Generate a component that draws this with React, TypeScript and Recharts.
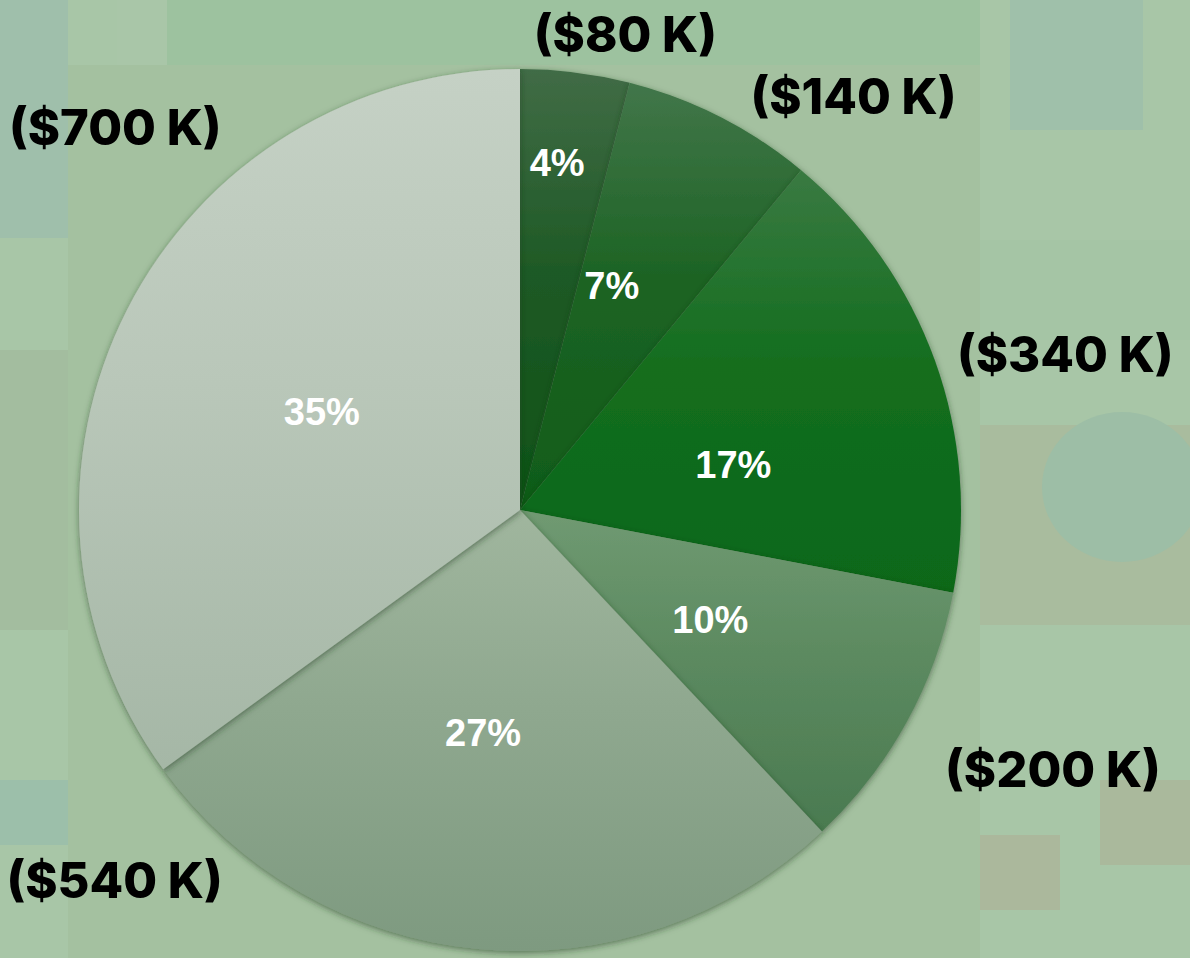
import React from 'react';
import { PieChart, Pie, Cell } from 'recharts';

// share of total, clockwise from 12 o'clock
const categories = ['A', 'B', 'C', 'D', 'E', 'F'];
const amountsK = [80, 140, 340, 200, 540, 700];
const percentLabels = ['4%', '7%', '17%', '10%', '27%', '35%'];

const data = categories.map((name, i) => ({
  name,
  value: amountsK[i],
  pct: percentLabels[i],
  amount: `($${amountsK[i]} K)`,
}));

// [top colour, mid colour, bottom colour] per slice
const sliceShades = [
  ['#416c46', '#1f5a26', '#0d5316'],
  ['#42764a', '#1d6424', '#0f5c18'],
  ['#3a7a42', '#146e1f', '#0a6819'],
  ['#709a72', '#5c8a60', '#4a7a50'],
  ['#a0b69e', '#8fa88f', '#7e9a80'],
  ['#c5d1c5', '#b9c7b9', '#a5b7a6'],
];

// label placement: degrees clockwise from top, distance from centre
const innerSpots = [
  [6.1, 349], [22.3, 242], [78.1, 218], [120.1, 220], [189.4, 226], [296.3, 221],
];
const outerSpots = [
  [12.5, 487], [38.9, 531], [74.1, 567], [116.0, 593], [227.6, 549], [313.4, 557],
];

const polar = (cx: number, cy: number, fromTop: number, r: number) => {
  const a = (fromTop * Math.PI) / 180;
  return { x: cx + r * Math.sin(a), y: cy - r * Math.cos(a) };
};

const renderLabels = (props: any) => {
  const { cx, cy, index } = props;
  const item = data[index];
  const inner = polar(cx, cy, innerSpots[index][0], innerSpots[index][1]);
  const outer = polar(cx, cy, outerSpots[index][0], outerSpots[index][1]);
  return (
    <g key={`lbl-${index}`}>
      <text
        x={inner.x}
        y={inner.y}
        textAnchor="middle"
        dominantBaseline="central"
        fill="#ffffff"
        style={{ fontFamily: '"Liberation Sans", Arial, sans-serif', fontSize: 38, fontWeight: 700 }}
      >
        {item.pct}
      </text>
      <text
        x={outer.x}
        y={outer.y}
        textAnchor="middle"
        dominantBaseline="central"
        fill="#000000"
        style={{ fontFamily: 'Inter, "Noto Sans", sans-serif', fontSize: 49, fontWeight: 800 }}
      >
        {item.amount}
      </text>
    </g>
  );
};

// faint backdrop blocks behind the chart
const Backdrop = () => (
  <>
    <div style={{ position: 'absolute', left: 0, top: 0, width: 68, height: 238, background: '#9fbfab' }} />
    <div style={{ position: 'absolute', left: 117, top: 0, width: 50, height: 65, background: '#a9c6a8' }} />
    <div style={{ position: 'absolute', left: 167, top: 0, width: 813, height: 65, background: '#9dc29f' }} />
    <div style={{ position: 'absolute', left: 68, top: 65, width: 912, height: 893, background: '#a4c1a0' }} />
    <div style={{ position: 'absolute', left: 1010, top: 0, width: 133, height: 130, background: '#9fc0aa' }} />
    <div style={{ position: 'absolute', left: 0, top: 350, width: 68, height: 280, background: '#a3bd9f' }} />
    <div style={{ position: 'absolute', left: 0, top: 780, width: 68, height: 65, background: '#9cbfaa' }} />
    <div style={{ position: 'absolute', left: 980, top: 240, width: 210, height: 100, background: '#a5c5a5' }} />
    <div style={{ position: 'absolute', left: 980, top: 425, width: 210, height: 200, background: '#a9bc9e' }} />
    <div style={{ position: 'absolute', left: 1042, top: 412, width: 160, height: 150, borderRadius: '50%', background: '#9dbea6' }} />
    <div style={{ position: 'absolute', left: 980, top: 835, width: 80, height: 75, background: '#abb89c' }} />
    <div style={{ position: 'absolute', left: 1100, top: 780, width: 90, height: 85, background: '#aab99c' }} />
  </>
);

export default function App() {
  return (
    <div
      style={{
        position: 'fixed',
        left: 0,
        top: 0,
        width: 1190,
        height: 958,
        overflow: 'hidden',
        background: '#a8c6a7',
      }}
    >
      <Backdrop />
      <div style={{ position: 'absolute', left: 0, top: 0 }}>
        <PieChart width={1190} height={958} margin={{ top: 0, right: 0, bottom: 0, left: 0 }}>
          <defs>
            {sliceShades.map((s, i) => (
              <linearGradient key={`g-${i}`} id={`slice-${i}`} x1="0" y1="0" x2="0" y2="1">
                <stop offset="0%" stopColor={s[0]} />
                <stop offset="45%" stopColor={s[1]} />
                <stop offset="100%" stopColor={s[2]} />
              </linearGradient>
            ))}
            <filter id="pieShadow" x="-10%" y="-10%" width="120%" height="120%">
              <feDropShadow dx="0" dy="2" stdDeviation="3" floodColor="#1f3a22" floodOpacity="0.55" />
            </filter>
          </defs>
          <Pie
            data={data}
            dataKey="value"
            nameKey="name"
            cx={520}
            cy={510}
            innerRadius={0}
            outerRadius={441}
            startAngle={90}
            endAngle={-270}
            stroke="none"
            label={renderLabels}
            labelLine={false}
            isAnimationActive={false}
            style={{ filter: 'url(#pieShadow)' }}
          >
            {data.map((d, i) => (
              <Cell key={`c-${d.name}`} fill={`url(#slice-${i})`} />
            ))}
          </Pie>
        </PieChart>
      </div>
    </div>
  );
}
